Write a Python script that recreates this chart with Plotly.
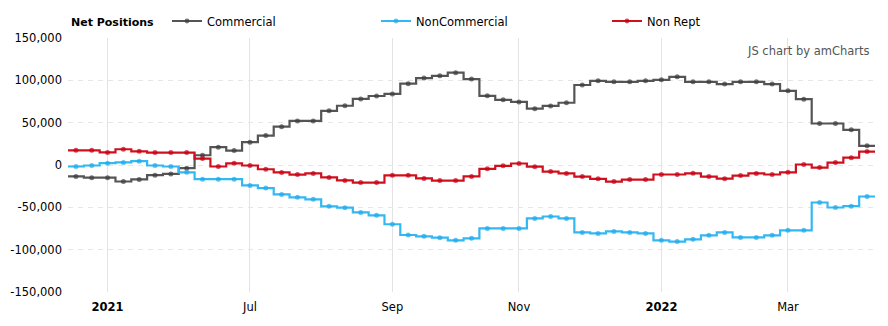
import pandas as pd
import plotly.graph_objects as go

# ---------------- data ----------------
start_date = "2021-04-20"
n_weeks = 51
dates = list(pd.date_range(start_date, periods=n_weeks, freq="7D"))

commercial = [-13500, -15000, -15000, -19500, -17000, -12000, -10500, -3700, 11500, 21000, 17000,
              27000, 34700, 45300, 52000, 52000, 64000, 70000, 78000, 81500, 84000,
              96000, 102700, 105300, 109000, 101500, 81700, 77000, 74500, 66500, 69800,
              73500, 94500, 99400, 98200, 98200, 99400, 100600, 104100, 98200, 98200,
              95600, 98200, 98200, 95600, 87600, 77800, 49000, 49000, 41600, 22700]

noncommercial = [-1800, -600, 2200, 3100, 4500, -600, -1800, -8600, -16700, -16700, -16700,
                 -24100, -27200, -34700, -38200, -40600, -48800, -50400, -56000, -59400, -70000,
                 -82700, -84300, -85800, -89000, -86600, -74900, -74900, -74900, -63100, -60800,
                 -63100, -79600, -80800, -78400, -79600, -80800, -89000, -90400, -87800, -83100,
                 -79600, -85500, -85500, -83100, -77200, -77200, -44300, -50200, -48600, -37200]

nonrept = [17300, 17300, 14900, 18600, 16100, 14700, 14700, 14700, 7600, -1800, 2000,
           -600, -5000, -8800, -11300, -10000, -14700, -18200, -20800, -20800, -12200,
           -12200, -15900, -18400, -18400, -13500, -4500, -1000, 1800, -2000, -7800,
           -10000, -13700, -16300, -19600, -17200, -17200, -11200, -11200, -9800, -13700,
           -16100, -12500, -10000, -11200, -8600, 600, -3100, 2900, 8600, 15900]

series_names = ["Commercial", "NonCommercial", "Non Rept"]
y_tick_values = [150000, 100000, 50000, 0, -50000, -100000, -150000]
x_tick_months = [(2021, 5), (2021, 7), (2021, 9), (2021, 11), (2022, 1), (2022, 3)]
x_tick_labels = ["<b>2021</b>", "Jul", "Sep", "Nov", "<b>2022</b>", "Mar"]

# ---------------- styles ----------------
FONT = "DejaVu Sans, Verdana, sans-serif"
line_colors = ["#555555", "#33b8f3", "#d0101e"]
marker_colors = ["#3d3d3d", "#1fa9ec", "#c80012"]
legend_x_px = [167, 376, 607]
W, H = 888, 326
ML, MR, MT, MB = 68, 13, 38, 34
PW, PH = W - ML - MR, H - MT - MB

half = pd.Timedelta(days=3.5)
x_ext = [dates[0] - half] + dates + [dates[-1] + half]

fig = go.Figure()
for i, (name, vals) in enumerate(zip(series_names, [commercial, noncommercial, nonrept])):
    y_ext = [vals[0]] + vals + [vals[-1]]
    sizes = [0] + [5] * len(vals) + [0]
    fig.add_trace(go.Scatter(
        x=x_ext, y=y_ext, name=name, mode="lines+markers",
        line=dict(color=line_colors[i], width=2.2, shape="hvh"),
        marker=dict(color=marker_colors[i], size=sizes, line=dict(width=0)),
        legend="legend" if i == 0 else f"legend{i+1}",
    ))

tick_vals_x = []
for (yy, mm) in x_tick_months:
    first = next(d for d in dates if d.year == yy and d.month == mm)
    tick_vals_x.append(first)

def fmt(v):
    s = f"{abs(v):,}"
    return ("-" if v < 0 else "") + s

legend_common = dict(orientation="h", xref="container", yref="container",
                     xanchor="left", yanchor="middle", y=1 - 21 / H,
                     font=dict(family=FONT, size=11.5, color="#000000"),
                     bgcolor="rgba(0,0,0,0)", itemwidth=30)

layout_legends = {}
for i in range(3):
    key = "legend" if i == 0 else f"legend{i+1}"
    layout_legends[key] = dict(legend_common, x=legend_x_px[i] / W)

fig.update_layout(
    width=W, height=H,
    margin=dict(l=ML, r=MR, t=MT, b=MB, autoexpand=False),
    paper_bgcolor="white", plot_bgcolor="white",
    font=dict(family=FONT, size=11.5, color="#000000"),
    showlegend=True,
    **layout_legends,
    xaxis=dict(
        type="date",
        range=[x_ext[0], x_ext[-1]],
        tickvals=tick_vals_x, ticktext=x_tick_labels,
        showgrid=True, gridcolor="#e3e3e3", gridwidth=1,
        zeroline=False, showline=False, ticks="",
        ticklabelstandoff=6,
        tickfont=dict(family=FONT, size=11.5, color="#000000"),
    ),
    yaxis=dict(
        range=[-150000, 150000],
        tickvals=y_tick_values, ticktext=[fmt(v) for v in y_tick_values],
        showgrid=True, gridcolor="#e6e6e6", gridwidth=1, griddash="5px,5px",
        zeroline=False, showline=False, ticks="",
        ticklabelstandoff=5,
        tickfont=dict(family=FONT, size=11.5, color="#000000"),
    ),
    annotations=[
        dict(text="<b>Net Positions</b>", xref="paper", yref="paper",
             x=(69 - ML) / PW, y=1 + (MT - 22) / PH,
             xanchor="left", yanchor="middle", showarrow=False,
             font=dict(family=FONT, size=11, color="#000000")),
        dict(text="JS chart by amCharts", xref="paper", yref="paper",
             x=1 - 3 / PW, y=1 - (51 - MT) / PH,
             xanchor="right", yanchor="middle", showarrow=False,
             font=dict(family=FONT, size=11.5, color="#555555")),
    ],
)

fig.write_html("out.html")
